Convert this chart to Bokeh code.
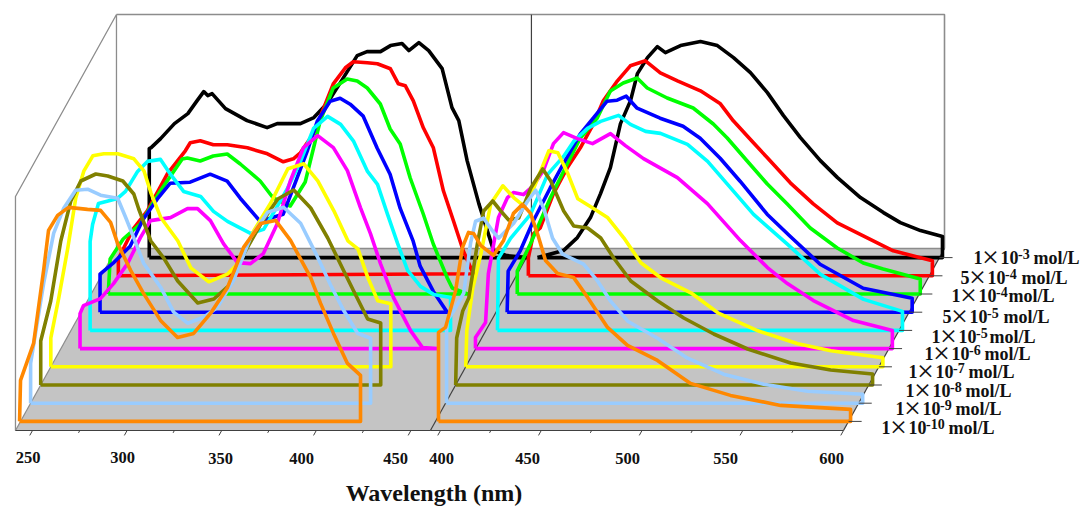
from bokeh.plotting import figure
from bokeh.embed import file_html
from bokeh.resources import INLINE
from bokeh.core.properties import value

# ---- data: left panel (excitation), wavelength nm / intensity a.u. (wall height = 234)
black_l_wl = [261,261,262,267,270.4,274.3,281.4,286.3,289.8,291.9,294.2,301.3,312.7,323.3,328.6,340.9,348,355,362,370.9,376.1,383.2,388.5,394.6,398.2,403.5,408.7,415.8,421,424.6,429,435.2,443,450,461]
black_l_i = [0,109,110,119,126,134,144,157,166,162,164,149,137,130,134,134,140,154,175,202,206,206,212,214,207,215,207,189,150,137,97,54,7,2,0]
red_l_wl = [250,250,257.9,265.3,275.9,285.4,288,293.3,300.2,307.6,318.2,328.8,337.2,342.5,346.2,353.1,363.6,370,374.2,381.6,386.9,393.8,398,401.7,405.9,411.2,416.5,421.8,427.1,432.3,437.6]
red_l_i = [0,17,47,65,102,125,133,135,131,131,128,122,114,117,123,142,192,208,214,213,212,207,192,190,175,148,128,85,55,25,2]
green_l_wl = [250,251,257.9,266.9,277.5,289.1,291.8,298.6,305.5,312.9,319.8,330.3,337.2,346.2,354.1,362,368.9,376.3,381.6,386.9,393.8,399,404.3,409.6,416.5,421.8,429.2,431.8,439.8]
green_l_i = [0,35,55,70,103,135,136,133,138,140,130,113,96,88,112,173,206,215,213,206,190,165,150,116,80,50,16,6,0]
blue_l_wl = [251,251,257.9,266.9,273.8,281.2,288.1,298.6,309.2,318.2,325.1,335.6,347.8,353.1,360.5,365.8,372.6,377.9,383.2,390.1,397.5,404.3,409.6,416.5,420.2,427.1,434.5]
blue_l_i = [0,38,49,66,93,113,129,130,138,131,114,91,98,124,161,191,211,214,208,196,164,138,104,71,46,21,0]
cyan_l_wl = [251.1,251.1,252.4,255.5,265.6,269.8,276.2,281.4,288.3,293.6,300.5,309.5,316.3,323.7,335.9,342.8,349.1,355.4,362.3,369.2,376.6,383.5,390.4,397.7,403,408.3,413.6,418.9,425.7,432.6,441.6,441.6]
cyan_l_i = [0,89,106,127,132,139,159,169,171,156,139,134,119,109,97,101,121,142,169,202,214,206,189,159,146,116,87,60,44,36,33,0]
magenta_l_wl = [251.1,251.1,252.9,261.9,268.8,276.2,283,288.3,298.9,307.9,313.2,320,326.9,334.3,341.2,348,355.4,362.3,369.2,376.7,385,392.4,399.3,404.6,409.9,416.8,425.8,432.1,440]
magenta_l_i = [0,35,43,50,65,85,111,128,131,140,140,128,105,86,85,95,125,168,201,213,201,178,141,115,85,51,18,1,0]
yellow_l_wl = [241,241,245.2,250,254.2,258.5,263.2,269,276.4,284.9,290.2,293.9,299.2,308.1,315,324.5,334.6,341.4,348.3,357.3,366.3,374.7,382.1,390.6,398,403.3,408.6,413.8,420.7,420.7]
yellow_l_i = [0,29,69,119,169,196,211,213,213,208,196,174,149,126,99,85,93,106,136,164,198,203,186,156,126,118,89,66,63,0]
olive_l_wl = [241,241,246.3,251.6,256.9,262.2,270.1,276.4,284.4,290.2,292.8,299.2,306,313.4,324,332.5,341.4,348.3,357.3,366.3,374.7,383.7,392.7,401.2,406.4,413.8,420.7,420.7]
olive_l_i = [0,44,84,144,184,204,211,209,204,191,176,144,127,104,82,86,101,131,161,186,195,177,147,114,94,66,62,0]
ltblue_l_wl = [241,241,247.9,253.2,258.5,264.8,271.1,278,287,291.2,295.4,300.7,309.7,316.6,324,332.5,339.8,348.3,357.3,366.3,374.7,383.7,392.7,399.6,406.4,413.8,420.7,420.7]
ltblue_l_i = [0,40,120,170,195,213,214,208,205,186,166,140,116,91,80,86,96,123,166,191,196,180,146,118,93,70,65,0]
orange_l_wl = [240.5,241,247.9,253.2,255.8,260.6,266.4,276.4,283.3,288.6,292.3,299.2,306,315,324,332.5,341.4,350.4,358.9,367.9,375.8,383.7,394.3,399.6,406.4,413.8,420.7,420.7]
orange_l_i = [0,41,78,151,191,206,214,212,211,199,178,151,128,101,84,88,108,134,174,198,201,181,144,118,88,58,46,0]

# ---- data: right panel (emission)
black_r_wl = [400.5,413.4,420.3,426.8,431.8,436.7,441.7,446.7,450.1,455.1,460,464,471.5,481.4,489.8,497.8,506.2,514.6,522.6,531,540.9,549.4,560.8,572.2,580.6,590.6,601.5,601.5]
black_r_i = [0,7,20,40,64,90,134,157,184,200,211,205,212,216,212,200,185,165,142,120,97,80,60,45,35,27,21,0]
red_r_wl = [401,401,403.5,406.9,413.4,420.3,426.8,433.3,438.2,445.2,451.6,459.1,466.5,475,486.4,496.3,502.7,512.7,519.6,531,542.4,554.3,567.2,582.1,601.5,601.5]
red_r_i = [0,18,42,48,82,108,128,152,175,195,210,215,203,195,185,172,155,133,118,93,72,53,40,25,15,0]
green_r_wl = [400.5,400.5,407,416.9,425.3,431.8,440.2,446.7,453.1,460,465,474.9,487.8,497.8,504.7,514.6,524.6,534.5,545.9,559.3,572.2,582.1,600.5,600.5]
green_r_i = [0,23,50,96,130,156,176,203,211,216,206,196,186,170,156,133,110,90,66,46,31,25,15,0]
blue_r_wl = [400.5,401,406.9,413.4,421.8,428.3,436.7,443.2,450.1,455.1,459.6,465,476.4,487.8,496.3,506.2,516.1,529.5,540.9,555.8,577.2,601.5,601.5]
blue_r_i = [0,41,61,91,124,148,178,194,211,212,216,204,194,186,174,154,131,98,76,48,24,14,0]
cyan_r_wl = [400.7,401.2,407.2,417.1,425.6,433.5,438.5,445.4,451.9,460.8,466.7,474.2,481.6,495,505,514.9,527.8,544.7,561,582.4,601.7,601.7]
cyan_r_i = [0,72,92,116,156,174,189,202,209,215,206,199,197,186,169,146,116,86,56,31,19,0]
magenta_r_wl = [394.8,394.8,399.8,401.2,406.2,410.7,413.6,418.6,423.6,428.5,433.5,438.5,445.4,452.9,461.8,469.2,478.2,495,509.9,526.3,539.7,549.6,562.5,582.4,601.7,601.7]
magenta_r_i = [0,11,26,75,131,151,156,154,163,178,205,216,210,205,215,203,190,171,145,108,81,65,48,28,18,0]
yellow_r_wl = [395,395.5,398.5,402.5,407.4,413.4,418.9,423.8,428.8,436.2,440.7,445.7,450.6,458.6,465.5,473.4,481.9,491.8,506.7,520.1,540,559.8,576.2,602,602]
yellow_r_i = [0,36,79,113,163,181,169,161,179,216,214,193,168,158,149,129,104,89,74,54,36,23,16,9,0]
olive_r_wl = [395,395.5,398.5,401.5,406,408.9,413.4,417.4,421.3,426.3,432.3,438.2,442.2,448.6,453.6,460.5,467,473.4,481.9,495.3,508.2,523.1,539.9,561.3,581.1,601.9,601.9]
olive_r_i = [0,47,74,87,144,174,184,174,165,167,197,216,204,174,159,157,147,127,104,84,67,51,36,22,15,11,0]
ltblue_r_wl = [395.5,395.5,399,404,407.4,409.9,413.9,418.4,421.3,428.8,435.7,439.7,443.7,448.1,453.1,463.5,470.5,476.9,485.4,500.2,515.1,533,552.9,574.7,602,602]
ltblue_r_i = [0,82,92,110,160,182,185,172,165,180,202,213,195,165,149,139,122,102,82,65,45,29,19,12,9,0]
orange_r_wl = [396.5,396.5,400,405,408.4,411.4,413.9,417.4,423.8,428.8,433.7,438.2,442.2,446.2,449.6,455.6,463.5,470.5,480.4,490.3,505.2,521.6,541.4,566.3,601,601]
orange_r_i = [0,89,94,131,174,189,188,176,166,181,208,217,208,184,161,148,144,124,94,76,61,38,26,16,12,0]

conc_lead = ["1","5","1","5","1","1","1","1","1","1"]
conc_exp = ["-3","-4","-4","-5","-5","-6","-7","-8","-9","-10"]
left_ticks = [250,300,350,400,450]
right_ticks = [400,450,500,550,600]
left_minor = [275,325,375,425]
right_minor = [425,475,525,575]

# ---- styles
colors = ["#000000","#FF0000","#00FF00","#0000FF","#00FFFF","#FF00FF","#FFFF00","#808000","#99CCFF","#FF8800"]
series_l = [(black_l_wl,black_l_i),(red_l_wl,red_l_i),(green_l_wl,green_l_i),(blue_l_wl,blue_l_i),(cyan_l_wl,cyan_l_i),
            (magenta_l_wl,magenta_l_i),(yellow_l_wl,yellow_l_i),(olive_l_wl,olive_l_i),(ltblue_l_wl,ltblue_l_i),(orange_l_wl,orange_l_i)]
series_r = [(black_r_wl,black_r_i),(red_r_wl,red_r_i),(green_r_wl,green_r_i),(blue_r_wl,blue_r_i),(cyan_r_wl,cyan_r_i),
            (magenta_r_wl,magenta_r_i),(yellow_r_wl,yellow_r_i),(olive_r_wl,olive_r_i),(ltblue_r_wl,ltblue_r_i),(orange_r_wl,orange_r_i)]
SERIF = value("Liberation Serif")

# ---- oblique projection of (wavelength, depth, intensity) on the page
FRONT_Y, DEPTH_Y, DEPTH_X = 430.0, 18.2, 10.1
def project(panel, wl, depth, inten=0.0):
    if panel == "L":
        x = 32 + (wl - 250) * 1.892
    else:
        x = 440 + (wl - 400) * 2.015
    return x + depth * DEPTH_X, FRONT_Y - depth * DEPTH_Y - inten

def pline(panel, wls, depths, intens):
    pts = [project(panel, w, d, i) for w, d, i in zip(wls, depths, intens)]
    return [a for a, _ in pts], [b for _, b in pts]

p = figure(width=1083, height=506, x_range=(0, 1083), y_range=(506, 0), output_backend="svg",
           toolbar_location=None, x_axis_location=None, y_axis_location=None, min_border=0,
           outline_line_color=None)
p.grid.visible = False
p.background_fill_color = "white"

L_MIN, L_MAX, R_MIN, R_MAX, DEPTH = 241.0, 460.4, 395.0, 600.0, 10.0

# floor
for panel, a, b in (("L", L_MIN, L_MAX), ("R", R_MIN, R_MAX)):
    xs, ys = pline(panel, [a, b, b, a], [0, 0, DEPTH, DEPTH], [0, 0, 0, 0])
    p.patch(xs, ys, fill_color="#C4C4C4", line_color=None)

# walls
H = 234
GR = "#8C8C8C"
x, y = pline("L", [L_MIN, L_MIN, L_MIN, L_MIN], [0, 0, DEPTH, DEPTH], [0, H, H, 0]); p.line(x, y, line_color=GR, line_width=1.3)
x, y = pline("L", [L_MIN, L_MAX], [DEPTH, DEPTH], [0, 0]); p.line(x, y, line_color=GR, line_width=1.3)
x, y = pline("R", [R_MIN, R_MAX], [DEPTH, DEPTH], [0, 0]); p.line(x, y, line_color=GR, line_width=1.3)
x, y = pline("L", [L_MIN, L_MAX], [DEPTH, DEPTH], [H, H]); p.line(x, y, line_color=GR, line_width=1.6)
x, y = pline("R", [R_MIN, R_MAX, R_MAX], [DEPTH, DEPTH, DEPTH], [H, H, 0]); p.line(x, y, line_color=GR, line_width=1.6)
x, y = pline("R", [R_MIN, R_MIN], [DEPTH, DEPTH], [0, H]); p.line(x, y, line_color="#404040", line_width=1.2)

# axes edges
DK = "#404040"
x, y = pline("L", [L_MIN, L_MIN], [0, DEPTH], [0, 0]); p.line(x, y, line_color=GR, line_width=1.2)
x, y = pline("R", [R_MIN, R_MIN], [0, DEPTH], [0, 0]); p.line(x, y, line_color=DK, line_width=1.2)
x, y = pline("R", [R_MAX, R_MAX], [0, DEPTH], [0, 0]); p.line(x, y, line_color=DK, line_width=1.2)
x, y = pline("L", [L_MIN, L_MAX], [0, 0], [0, 0]); p.line(x, y, line_color=DK, line_width=1.2)
x, y = pline("R", [R_MIN, R_MAX], [0, 0], [0, 0]); p.line(x, y, line_color=DK, line_width=1.2)

# ticks
for panel, majors, minors in (("L", left_ticks, left_minor), ("R", right_ticks, right_minor)):
    for t in majors:
        x, y = pline(panel, [t, t], [0, -0.27], [0, 0]); p.line(x, y, line_color=DK, line_width=1)
    for t in minors:
        x, y = pline(panel, [t, t], [0, -0.13], [0, 0]); p.line(x, y, line_color=DK, line_width=1)

# series (closed outlines: back row first)
n = len(colors)
for side, panel in ((series_l, "L"), (series_r, "R")):
    for k, ((wl, inten), c) in enumerate(zip(side, colors)):
        d = n - 1 - k + 0.5
        cw = list(wl) + [wl[0]]
        ci = list(inten) + [inten[0]]
        x, y = pline(panel, cw, [d] * len(cw), ci)
        p.line(x, y, line_color=c, line_width=3.6, line_join="round")

# depth ticks + labels
label_x = [973, 960, 951, 942, 931, 924, 908, 905, 895, 881]
label_y = [257, 277, 295, 316, 336, 353, 371, 390, 408, 427]
mol_dx = [60, 61, 57, 61, 58, 60, 60, 60, 60, 67]
for k in range(n):
    d = n - 1 - k + 0.5
    x, y = pline("R", [R_MAX, R_MAX + 6.5], [d, d], [0, 0])
    p.line(x, y, line_color=DK, line_width=1)
TXT = "#111111"
lx = label_x
p.text(lx, label_y, text=conc_lead, text_font=SERIF, text_font_style="bold", text_font_size="18px",
       text_baseline="middle", text_align="left", text_color=TXT)
p.text([v + 17 for v in lx], [v - 1 for v in label_y], text=["×"] * n, text_font=SERIF, text_font_style="normal",
       text_font_size="30px", text_baseline="middle", text_align="center", text_color=TXT)
p.text([v + 27 for v in lx], label_y, text=["10"] * n, text_font=SERIF, text_font_style="bold", text_font_size="18px",
       text_baseline="middle", text_align="left", text_color=TXT)
p.text([v + 44.5 for v in lx], [v - 4 for v in label_y], text=conc_exp, text_font=SERIF, text_font_style="bold",
       text_font_size="14px", text_baseline="middle", text_align="left", text_color=TXT)
p.text([a + b for a, b in zip(lx, mol_dx)], label_y, text=["mol/L"] * n, text_font=SERIF, text_font_style="bold",
       text_font_size="18px", text_baseline="middle", text_align="left", text_color=TXT)

# x tick labels
tx = [27.5, 122, 220, 301, 395, 441, 527, 627, 725, 831]
ty = [457, 457, 458, 458, 458, 458, 458, 458, 458, 458]
p.text(tx, ty, text=[str(t) for t in left_ticks + right_ticks], text_font=SERIF, text_font_style="bold",
       text_font_size="16.5px", text_baseline="middle", text_align="center", text_color=TXT)
p.text([433.5], [492], text=["Wavelength (nm)"], text_font=SERIF, text_font_style="bold",
       text_font_size="24px", text_baseline="middle", text_align="center", text_color=TXT)

open("out.html", "w").write(file_html(p, INLINE))
